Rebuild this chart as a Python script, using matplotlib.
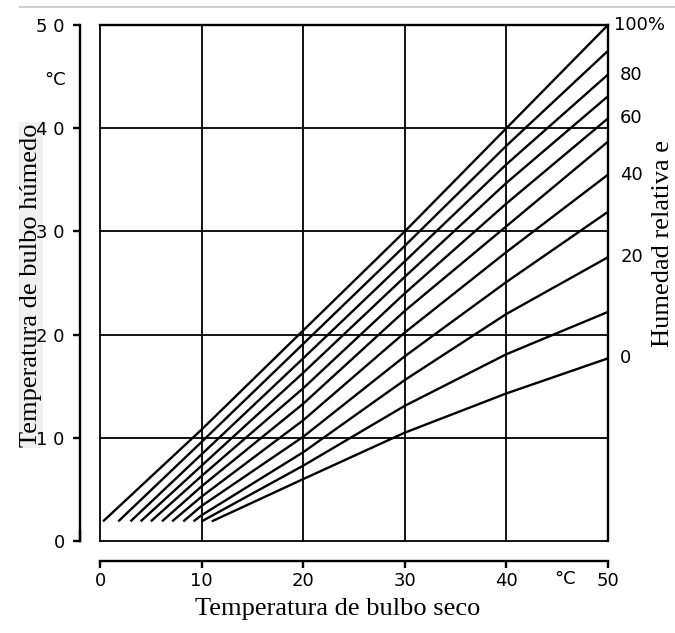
import matplotlib
matplotlib.use("Agg")
import matplotlib.pyplot as plt
from matplotlib.lines import Line2D
from matplotlib.transforms import offset_copy

# Dry-bulb temperature (°C) points for each relative-humidity curve
rh_levels = [100, 90, 80, 70, 60, 50, 40, 30, 20, 10, 0]
dry_bulb = {
    100: [0.3, 10, 20, 30, 40, 50],
    90: [1.8, 10, 20, 30, 40, 50],
    80: [3.0, 10, 20, 30, 40, 50],
    70: [4.0, 10, 20, 30, 40, 50],
    60: [5.0, 10, 20, 30, 40, 50],
    50: [6.1, 10, 20, 30, 40, 50],
    40: [7.1, 10, 20, 30, 40, 50],
    30: [8.2, 10, 20, 30, 40, 50],
    20: [9.2, 10, 20, 30, 40, 50],
    10: [10.0, 20, 30, 40, 50],
    0: [11.0, 20, 30, 40, 50],
}
# Wet-bulb temperature (°C) at those dry-bulb points
wet_bulb = {
    100: [1.9, 10.8, 20.4, 30.0, 40.0, 50.0],
    90: [1.9, 9.6, 19.1, 28.6, 38.3, 47.5],
    80: [1.9, 8.4, 17.7, 27.1, 36.5, 45.2],
    70: [1.9, 7.3, 16.3, 25.6, 34.7, 43.1],
    60: [1.9, 6.3, 14.8, 24.0, 32.7, 40.95],
    50: [1.9, 5.3, 13.3, 22.3, 30.5, 38.7],
    40: [1.9, 4.3, 11.7, 20.2, 28.0, 35.5],
    30: [1.9, 3.4, 10.1, 17.9, 25.1, 31.9],
    20: [1.9, 2.5, 8.6, 15.6, 22.0, 27.5],
    10: [1.9, 7.3, 13.1, 18.1, 22.2],
    0: [1.9, 6.0, 10.5, 14.3, 17.7],
}
# Curves labelled at the right edge
labelled = {100: "100%", 80: "80", 60: "60", 40: "40", 20: "20", 0: "0"}

x_ticks = [0, 10, 20, 30, 40, 50]
x_tick_labels = ["0", "10", "20", "30", "40", "50"]
y_ticks = [0, 10, 20, 30, 40, 50]
y_tick_labels = ["0", "1 0", "2 0", "3 0", "4 0", "5 0"]

W, H = 675, 633
fig = plt.figure(figsize=(W / 100, H / 100), dpi=100)
fig.patch.set_facecolor("white")

left, right, top, bottom = 100, 608, 25, 541
ax = fig.add_axes([left / W, 1 - bottom / H, (right - left) / W, (bottom - top) / H])
ax.set_xlim(0, 50)
ax.set_ylim(0, 50)
ax.patch.set_visible(False)

# Grid and the frame of the chart area
for v in x_ticks:
    ax.axvline(v, color="black", lw=1.3, clip_on=False, zorder=1)
for v in y_ticks:
    ax.axhline(v, color="black", lw=1.3, clip_on=False, zorder=1)

# Detached axis lines on the left and bottom (offset given in points)
gap = 14.4
ax.spines["left"].set_position(("outward", gap))
ax.spines["bottom"].set_position(("outward", gap))
for s in ax.spines.values():
    s.set_linewidth(1.7)
    s.set_color("black")
    s.set_zorder(5)

# Scale bar for the wet-bulb axis, drawn alongside its spine
left_bar = offset_copy(ax.get_yaxis_transform(), fig=fig, x=-gap, units="points")
ax.add_line(Line2D([0, 0], [0, 1], transform=left_bar, color="black",
                   lw=1.7, clip_on=False, zorder=5))

ax.set_xticks(x_ticks)
ax.set_xticklabels(x_tick_labels)
ax.set_yticks(y_ticks)
ax.set_yticklabels(y_tick_labels)
ax.tick_params(axis="both", direction="out", length=5, width=1.7,
               labelsize=13, colors="black")
ax.tick_params(axis="y", pad=6)
ax.tick_params(axis="x", pad=3)

# Relative-humidity curves
for rh in rh_levels:
    ax.plot(dry_bulb[rh], wet_bulb[rh], color="black", lw=1.7,
            solid_capstyle="butt", solid_joinstyle="round",
            zorder=3, clip_on=False)

for rh, txt in labelled.items():
    xpos = 50.6 if rh == 100 else 51.2
    ax.text(xpos, wet_bulb[rh][-1], txt, ha="left", va="center",
            fontsize=13, clip_on=False)

# Units
fig.text(55 / W, 1 - 80 / H, "°C", ha="center", va="center", fontsize=13)
fig.text(565 / W, 1 - 579 / H, "°C", ha="center", va="center", fontsize=13)

serif = ["Liberation Serif", "DejaVu Serif"]
# Axis title pasted behind the left tick labels
fig.text(31 / W, 1 - 285 / H, "Temperatura de bulbo húmedo", rotation=90,
         ha="center", va="center", fontsize=19, family=serif, zorder=-1,
         bbox=dict(facecolor="#f0f0f0", edgecolor="none", pad=0.5))
fig.text(338 / W, 1 - 609 / H, "Temperatura de bulbo seco",
         ha="center", va="center", fontsize=19, family=serif)
fig.text(663 / W, 1 - 243 / H, "Humedad relativa e", rotation=90,
         ha="center", va="center", fontsize=19, family=serif)

# Faint rule across the top of the page
fig.add_artist(Line2D([20 / W, 1.0], [1 - 7 / H, 1 - 7 / H],
                      transform=fig.transFigure, color="#cfcfcf", lw=1.5))

fig.savefig("out.png", dpi=100, facecolor="white")
